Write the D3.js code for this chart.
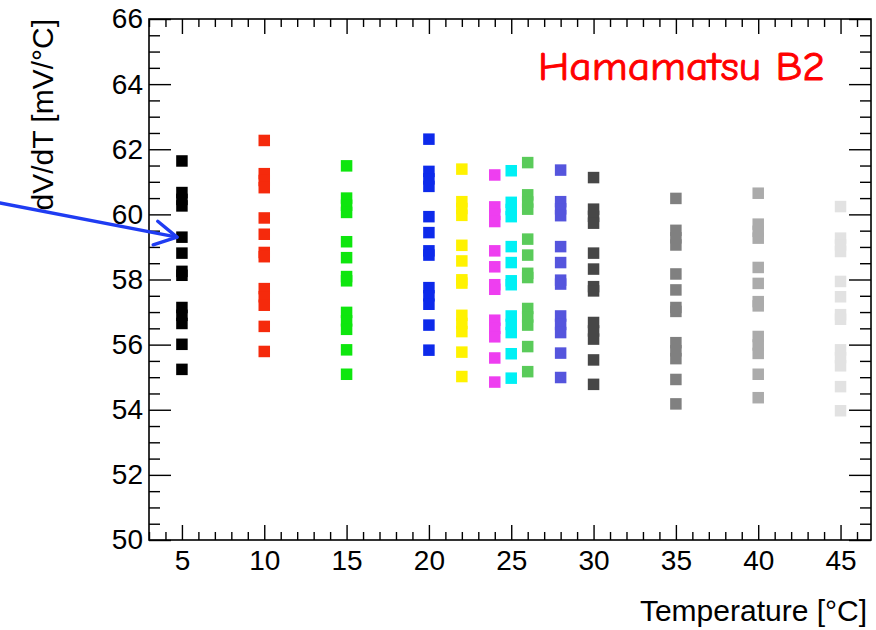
<!DOCTYPE html>
<html>
<head>
<meta charset="utf-8">
<script src="https://cdn.jsdelivr.net/npm/d3@7"></script>
<style>
  html, body { margin: 0; padding: 0; background: #fff; }
  svg { display: block; }
  .axis text { font-family: "Liberation Sans", Arial, Helvetica, sans-serif; font-size: 28px; fill: #000; }
  .axis line { stroke: #000; stroke-width: 1.4; }
</style>
</head>
<body>
<svg id="chart" width="876" height="630"></svg>
<script>
// Temperatures of the measurement runs (°C)
const temperatures = [5, 10, 15, 20, 22, 24, 25, 26, 28, 30, 35, 40, 45];

// Marker colour for each temperature run
const runColors = ["#000000", "#f52a0c", "#0ee60e", "#0d2aeb", "#fff200", "#ee3ef0",
                   "#00f0f5", "#5acb5a", "#5555dd", "#474747", "#808080", "#ababab", "#e2e2e2"];

// dV/dT (mV/°C) of each device, one list per temperature run
const slope_T5  = [61.64, 60.67, 60.46, 60.26, 59.30, 58.81, 58.25, 58.13, 57.14, 56.90, 56.65, 56.01, 55.24];
const slope_T10 = [62.27, 61.25, 61.04, 60.82, 59.89, 59.39, 58.83, 58.70, 57.72, 57.47, 57.21, 56.56, 55.79];
const slope_T15 = [61.49, 60.50, 60.28, 60.06, 59.16, 58.67, 58.09, 57.96, 56.99, 56.73, 56.47, 55.84, 55.09];
const slope_T20 = [62.31, 61.32, 61.09, 60.86, 59.93, 59.44, 58.88, 58.75, 57.75, 57.50, 57.24, 56.60, 55.83];
const slope_T22 = [61.39, 60.39, 60.18, 59.97, 59.05, 58.57, 57.99, 57.89, 56.90, 56.65, 56.40, 55.77, 55.02];
const slope_T24 = [61.21, 60.23, 60.00, 59.78, 58.88, 58.39, 57.84, 57.70, 56.75, 56.50, 56.24, 55.59, 54.85];
const slope_T25 = [61.34, 60.37, 60.15, 59.93, 59.01, 58.52, 57.96, 57.84, 56.88, 56.62, 56.37, 55.72, 54.97];
const slope_T26 = [61.59, 60.60, 60.38, 60.16, 59.24, 58.75, 58.19, 58.06, 57.11, 56.85, 56.60, 55.94, 55.17];
const slope_T28 = [61.36, 60.39, 60.17, 59.96, 59.01, 58.52, 57.98, 57.86, 56.88, 56.62, 56.37, 55.74, 54.99];
const slope_T30 = [61.13, 60.16, 59.94, 59.73, 58.81, 58.32, 57.78, 57.65, 56.68, 56.42, 56.17, 55.53, 54.78];
const slope_T35 = [60.49, 59.51, 59.28, 59.06, 58.17, 57.68, 57.14, 57.02, 56.06, 55.81, 55.57, 54.93, 54.18];
const slope_T40 = [60.65, 59.70, 59.48, 59.27, 58.37, 57.88, 57.32, 57.19, 56.25, 55.99, 55.73, 55.09, 54.37];
const slope_T45 = [60.24, 59.27, 59.06, 58.86, 57.94, 57.47, 56.92, 56.78, 55.84, 55.60, 55.35, 54.71, 53.97];

const slopesByRun = [slope_T5, slope_T10, slope_T15, slope_T20, slope_T22, slope_T24, slope_T25,
                     slope_T26, slope_T28, slope_T30, slope_T35, slope_T40, slope_T45];

// Axis ticks
const xMajorTicks = [5, 10, 15, 20, 25, 30, 35, 40, 45];
const yMajorTicks = [50, 52, 54, 56, 58, 60, 62, 64, 66];

// Annotation arrow, in data coordinates: from outside the frame to the T = 5 °C point
const arrowFrom = [-6.05, 60.35];
const arrowTo   = [4.70, 59.30];

const svg = d3.select("#chart");
const W = 876, H = 630;
const frame = { left: 149, right: 871, top: 19, bottom: 540 };

const x = d3.scaleLinear().domain([3, 46.85]).range([frame.left, frame.right]);
const y = d3.scaleLinear().domain([50, 66]).range([frame.bottom, frame.top]);

svg.append("rect").attr("width", W).attr("height", H).attr("fill", "#fff");

// Minor tick values
const xMinor = d3.range(3, 47, 1).filter(v => !xMajorTicks.includes(v));
const yMinor = d3.range(50, 66.001, 0.5).filter(v => !yMajorTicks.includes(v));

function tidy(g) { g.select(".domain").remove(); }

// Bottom axis (labels, inward ticks)
svg.append("g").attr("class", "axis")
  .attr("transform", `translate(0,${frame.bottom})`)
  .call(d3.axisBottom(x).tickValues(xMajorTicks).tickSizeInner(-15).tickSizeOuter(0).tickPadding(10).tickFormat(d3.format("d")))
  .call(tidy);
svg.append("g").attr("class", "axis")
  .attr("transform", `translate(0,${frame.bottom})`)
  .call(d3.axisBottom(x).tickValues(xMinor).tickSizeInner(-8).tickSizeOuter(0).tickFormat(""))
  .call(tidy);
// Top axis (ticks only)
svg.append("g").attr("class", "axis")
  .attr("transform", `translate(0,${frame.top})`)
  .call(d3.axisTop(x).tickValues(xMajorTicks).tickSizeInner(-15).tickSizeOuter(0).tickFormat(""))
  .call(tidy);
svg.append("g").attr("class", "axis")
  .attr("transform", `translate(0,${frame.top})`)
  .call(d3.axisTop(x).tickValues(xMinor).tickSizeInner(-8).tickSizeOuter(0).tickFormat(""))
  .call(tidy);
// Left axis (labels)
svg.append("g").attr("class", "axis")
  .attr("transform", `translate(${frame.left},0)`)
  .call(d3.axisLeft(y).tickValues(yMajorTicks).tickSizeInner(-22).tickSizeOuter(0).tickPadding(6).tickFormat(d3.format("d")))
  .call(tidy);
svg.append("g").attr("class", "axis")
  .attr("transform", `translate(${frame.left},0)`)
  .call(d3.axisLeft(y).tickValues(yMinor).tickSizeInner(-11).tickSizeOuter(0).tickFormat(""))
  .call(tidy);
// Right axis (ticks only)
svg.append("g").attr("class", "axis")
  .attr("transform", `translate(${frame.right},0)`)
  .call(d3.axisRight(y).tickValues(yMajorTicks).tickSizeInner(-22).tickSizeOuter(0).tickFormat(""))
  .call(tidy);
svg.append("g").attr("class", "axis")
  .attr("transform", `translate(${frame.right},0)`)
  .call(d3.axisRight(y).tickValues(yMinor).tickSizeInner(-11).tickSizeOuter(0).tickFormat(""))
  .call(tidy);

// Plot frame
svg.append("rect")
  .attr("x", frame.left).attr("y", frame.top)
  .attr("width", frame.right - frame.left).attr("height", frame.bottom - frame.top)
  .attr("fill", "none").attr("stroke", "#000").attr("stroke-width", 1.6);

// Square markers, one per device and temperature
const points = [];
temperatures.forEach((t, i) => {
  slopesByRun[i].forEach(v => points.push({ t, v, color: runColors[i] }));
});
const ms = 11.5;
svg.append("g").selectAll("rect")
  .data(points)
  .join("rect")
  .attr("x", d => x(d.t) - ms / 2)
  .attr("y", d => y(d.v) - ms / 2)
  .attr("width", ms).attr("height", ms)
  .attr("fill", d => d.color);

// Axis titles
svg.append("text")
  .attr("x", frame.right - 4).attr("y", 621)
  .attr("text-anchor", "end")
  .style("font-family", "'Liberation Sans', Arial, Helvetica, sans-serif")
  .style("font-size", "30px")
  .text("Temperature [°C]");

svg.append("text")
  .attr("transform", `translate(53,${frame.top}) rotate(-90)`)
  .attr("text-anchor", "end")
  .style("font-family", "'Liberation Sans', Arial, Helvetica, sans-serif")
  .style("font-size", "30px")
  .text("dV/dT [mV/°C]");

// Sample label
svg.append("text")
  .attr("x", 538).attr("y", 80)
  .attr("textLength", 287).attr("lengthAdjust", "spacingAndGlyphs")
  .style("font-family", "'Comic Sans MS', 'Comic Neue', 'DejaVu Sans', sans-serif")
  .style("font-size", "40px")
  .attr("fill", "#ff0000")
  .attr("stroke", "#ff0000").attr("stroke-width", 0.9)
  .text("Hamamatsu B2");

// Arrow pointing at the 5 °C data
const p0 = [x(arrowFrom[0]), y(arrowFrom[1])];
const p1 = [x(arrowTo[0]), y(arrowTo[1])];
const ang = Math.atan2(p1[1] - p0[1], p1[0] - p0[0]);
const headLen = 25, headAng = 0.5;
const barb = s => [p1[0] - headLen * Math.cos(ang + s * headAng), p1[1] - headLen * Math.sin(ang + s * headAng)];
const arrowG = svg.append("g").attr("fill", "none").attr("stroke", "#1f3cf2")
  .attr("stroke-width", 3.4).attr("stroke-linecap", "round").attr("stroke-linejoin", "round");
arrowG.append("path").attr("d", d3.line()([p0, p1]));
arrowG.append("path").attr("d", d3.line()([barb(1), p1, barb(-1)]));
</script>
</body>
</html>
